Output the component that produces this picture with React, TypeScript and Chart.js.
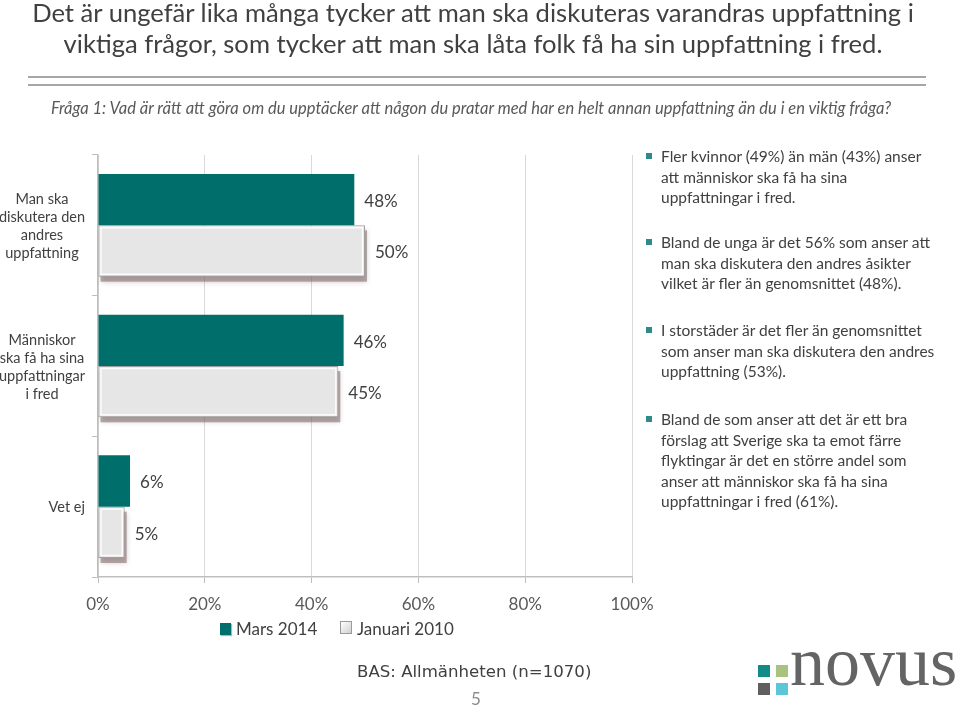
import React, { useEffect, useRef } from "react";
import { Chart, registerables } from "chart.js";

Chart.register(...registerables);

const categories: string[][] = [
  ["Man ska", "diskutera den", "andres", "uppfattning"],
  ["Människor", "ska få ha sina", "uppfattningar", "i fred"],
  ["Vet ej"],
];
const seriesNames = ["Mars 2014", "Januari 2010"];
const mars2014 = [48, 46, 6];
const januari2010 = [50, 45, 5];
const xTickValues = [0, 20, 40, 60, 80, 100];

const titleLines = [
  "Det är ungefär lika många tycker att man ska diskuteras varandras uppfattning i",
  "viktiga frågor, som tycker att man ska låta folk få ha sin uppfattning i fred.",
];
const questionText =
  "Fråga 1: Vad är rätt att göra om du upptäcker att någon du pratar med har en helt annan uppfattning än du i en viktig fråga?";
const bullets: string[][] = [
  ["Fler kvinnor (49%) än män (43%) anser", "att människor ska få ha sina", "uppfattningar i fred."],
  ["Bland de unga är det 56% som anser att", "man ska diskutera den andres åsikter", "vilket är fler än genomsnittet (48%)."],
  ["I storstäder är det fler än genomsnittet", "som anser man ska diskutera den andres", "uppfattning (53%)."],
  [
    "Bland de som anser att det är ett bra",
    "förslag att Sverige ska ta emot färre",
    "flyktingar är det en större andel som",
    "anser att människor ska få ha sina",
    "uppfattningar i fred (61%).",
  ],
];
const bulletTops = [146, 232, 320, 409];
const baseText = "BAS: Allmänheten (n=1070)";
const pageNumber = "5";

const FONT = "Lato, 'Open Sans', sans-serif";
const TEAL = "#006f6b";
const TEXT = "#404040";

const shadowPlugin = {
  id: "barShadow",
  beforeDatasetDraw(chart: any, args: any) {
    if (args.index !== 1) return;
    const ctx = chart.ctx;
    const meta = chart.getDatasetMeta(1);
    ctx.save();
    ctx.shadowColor = "rgba(90,60,60,0.5)";
    ctx.shadowBlur = 5;
    ctx.shadowOffsetX = 0;
    ctx.shadowOffsetY = 0;
    ctx.fillStyle = "rgba(130,105,105,0.55)";
    meta.data.forEach((bar: any) => {
      const { x, y, base, height } = bar.getProps(["x", "y", "base", "height"], true);
      ctx.fillRect(base + 2, y - height / 2 + 5, x - base, height);
    });
    ctx.restore();
  },
  afterDatasetDraw(chart: any, args: any) {
    if (args.index !== 1) return;
    const ctx = chart.ctx;
    const meta = chart.getDatasetMeta(1);
    ctx.save();
    ctx.strokeStyle = "rgba(255,255,255,0.85)";
    ctx.lineWidth = 1.5;
    meta.data.forEach((bar: any) => {
      const { x, y, base, height } = bar.getProps(["x", "y", "base", "height"], true);
      ctx.strokeRect(base + 2.5, y - height / 2 + 2.5, x - base - 5, height - 5);
    });
    ctx.restore();
  },
};

const dataLabelPlugin = {
  id: "dataLabels",
  afterDatasetsDraw(chart: any) {
    const ctx = chart.ctx;
    ctx.save();
    ctx.font = `17px ${FONT}`;
    ctx.fillStyle = TEXT;
    ctx.textAlign = "left";
    ctx.textBaseline = "middle";
    chart.data.datasets.forEach((ds: any, di: number) => {
      const meta = chart.getDatasetMeta(di);
      meta.data.forEach((bar: any, i: number) => {
        ctx.fillText(`${ds.data[i]}%`, bar.x + 10, bar.y + 2);
      });
    });
    ctx.restore();
  },
};

const yLabelPlugin = {
  id: "yLabels",
  afterDraw(chart: any) {
    const ctx = chart.ctx;
    const ys = chart.scales.y;
    const right = chart.chartArea.left - 13;
    const lh = 18;
    ctx.save();
    ctx.font = `14.5px ${FONT}`;
    ctx.fillStyle = TEXT;
    ctx.textAlign = "center";
    ctx.textBaseline = "middle";
    categories.forEach((lines, i) => {
      const cy = ys.getPixelForValue(i) + 1;
      const w = Math.max(...lines.map((l) => ctx.measureText(l).width));
      const cx = right - w / 2;
      const y0 = cy - ((lines.length - 1) * lh) / 2;
      lines.forEach((l, k) => ctx.fillText(l, cx, y0 + k * lh));
    });
    ctx.restore();
  },
};

function ChartCanvas() {
  const ref = useRef<HTMLCanvasElement | null>(null);
  useEffect(() => {
    if (!ref.current) return;
    const chart = new Chart(ref.current, {
      type: "bar",
      data: {
        labels: categories.map((c) => c.join(" ")),
        datasets: [
          {
            label: seriesNames[0],
            data: mars2014,
            backgroundColor: TEAL,
            borderWidth: 0,
            categoryPercentage: 0.73,
            barPercentage: 1.0,
          },
          {
            label: seriesNames[1],
            data: januari2010,
            backgroundColor: "#e6e6e6",
            borderColor: "#a0a0a0",
            borderWidth: 1,
            borderSkipped: false,
            categoryPercentage: 0.73,
            barPercentage: 1.0,
          },
        ],
      },
      options: {
        indexAxis: "y",
        responsive: false,
        animation: false,
        devicePixelRatio: 1,
        layout: { padding: { left: 92, right: 328, top: 155, bottom: 80 } },
        plugins: {
          legend: { display: false },
          tooltip: { enabled: false },
        },
        scales: {
          x: {
            min: 0,
            max: 100,
            afterBuildTicks: (s: any) => {
              s.ticks = xTickValues.map((v) => ({ value: v }));
            },
            afterFit: (s: any) => {
              s.height = 50;
            },
            grid: {
              color: "#d9d9d9",
              lineWidth: 1,
              drawTicks: true,
              tickLength: 6,
              tickColor: "#bfbfbf",
            },
            border: { display: true, color: "#bfbfbf", width: 1.5 },
            ticks: {
              color: "#595959",
              font: { family: FONT, size: 17 },
              padding: 11,
              callback: (v: any) => `${v}%`,
            },
          },
          y: {
            afterFit: (s: any) => {
              s.width = 6;
            },
            grid: {
              drawOnChartArea: false,
              drawTicks: true,
              tickLength: 6,
              tickColor: "#bfbfbf",
              offset: true,
            },
            border: { display: true, color: "#bfbfbf", width: 1.5 },
            ticks: { display: false },
          },
        },
      },
      plugins: [shadowPlugin, dataLabelPlugin, yLabelPlugin],
    } as any);
    return () => chart.destroy();
  }, []);
  return <canvas ref={ref} width={960} height={707} style={{ position: "absolute", left: 0, top: 0 }} />;
}

export default function App() {
  return (
    <div
      style={{
        position: "absolute",
        left: 0,
        top: 0,
        width: 960,
        height: 707,
        background: "#ffffff",
        overflow: "hidden",
        fontFamily: FONT,
        color: TEXT,
      }}
    >
      <ChartCanvas />
      <div
        style={{
          position: "absolute",
          left: 0,
          top: -3,
          width: 946,
          textAlign: "center",
          fontSize: 25.6,
          lineHeight: "31px",
          color: TEXT,
          whiteSpace: "nowrap",
        }}
      >
        {titleLines.map((l, i) => (
          <div key={i}>{l}</div>
        ))}
      </div>
      <div style={{ position: "absolute", left: 28, top: 76, width: 898, height: 2, background: "#a6a6a6" }} />
      <div style={{ position: "absolute", left: 28, top: 84, width: 898, height: 2, background: "#a6a6a6" }} />
      <div
        style={{
          position: "absolute",
          left: 0,
          top: 97,
          width: 942,
          textAlign: "center",
          fontSize: 16.5,
          fontStyle: "italic",
          lineHeight: "22px",
          color: "#595959",
          whiteSpace: "nowrap",
        }}
      >
        {questionText}
      </div>
      {bullets.map((lines, bi) => (
        <div key={bi} style={{ position: "absolute", left: 661, top: bulletTops[bi], fontSize: 15.5, lineHeight: "20.5px", color: TEXT, whiteSpace: "nowrap" }}>
          <div style={{ position: "absolute", left: -15, top: 7, width: 6, height: 6, background: "#2e8b87" }} />
          {lines.map((l, i) => (
            <div key={i}>{l}</div>
          ))}
        </div>
      ))}
      <div style={{ position: "absolute", left: 220, top: 623, width: 11, height: 12, background: TEAL, boxShadow: "1px 1px 1px rgba(0,0,0,0.3)" }} />
      <div style={{ position: "absolute", left: 236, top: 618, fontSize: 17, lineHeight: "22px", whiteSpace: "nowrap" }}>{seriesNames[0]}</div>
      <div
        style={{
          position: "absolute",
          left: 340,
          top: 621,
          width: 10,
          height: 11,
          background: "linear-gradient(135deg, #ffffff, #d0d0d0)",
          border: "1px solid #9a9a9a",
        }}
      />
      <div style={{ position: "absolute", left: 357, top: 618, fontSize: 17, lineHeight: "22px", whiteSpace: "nowrap" }}>{seriesNames[1]}</div>
      <div style={{ position: "absolute", left: 357, top: 662, fontFamily: "'DejaVu Sans', sans-serif", fontSize: 16.6, lineHeight: "20px", color: TEXT, whiteSpace: "nowrap" }}>
        {baseText}
      </div>
      <div style={{ position: "absolute", left: 471, top: 689, fontSize: 17, lineHeight: "20px", color: "#8c8c8c" }}>{pageNumber}</div>
      <div style={{ position: "absolute", left: 758, top: 665, width: 12, height: 12, background: "#128a88" }} />
      <div style={{ position: "absolute", left: 776, top: 665, width: 12, height: 12, background: "#a9c27f" }} />
      <div style={{ position: "absolute", left: 758, top: 683, width: 12, height: 12, background: "#5f5f5f" }} />
      <div style={{ position: "absolute", left: 776, top: 683, width: 12, height: 12, background: "#5bc7d6" }} />
      <div
        style={{
          position: "absolute",
          left: 790,
          top: 617,
          fontFamily: "'Liberation Serif', 'DejaVu Serif', serif",
          fontSize: 70,
          lineHeight: "90px",
          color: "#646464",
          whiteSpace: "nowrap",
        }}
      >
        novus
      </div>
    </div>
  );
}
